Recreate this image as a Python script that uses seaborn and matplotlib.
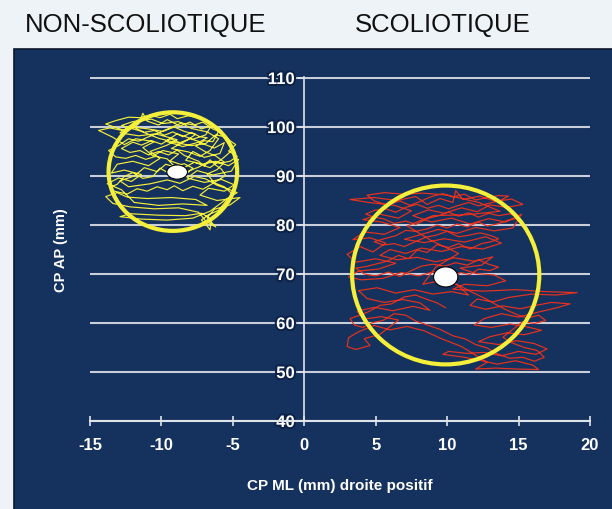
import numpy as np
import pandas as pd
import seaborn as sns
import matplotlib.pyplot as plt
from matplotlib.patches import Ellipse, Rectangle
import matplotlib.patheffects as pe

# donnees (CP ML, CP AP) en mm
trace_non_scol = [
    (-9.0, 91.0), (-8.6, 92.3), (-9.4, 93.1), (-8.8, 94.5), (-9.9, 95.2), (-10.6, 94.1),
    (-11.3, 95.8), (-10.5, 97.0), (-11.8, 97.6), (-12.6, 96.4), (-13.4, 97.9), (-14.4, 99.3),
    (-13.6, 99.8), (-12.4, 99.1), (-11.6, 100.6), (-11.3, 102.8), (-11.0, 101.2), (-10.2, 100.4),
    (-9.6, 101.5), (-8.7, 100.2), (-8.0, 101.0), (-7.2, 99.6), (-6.5, 100.3), (-6.9, 98.4),
    (-7.8, 97.5), (-8.9, 98.6), (-9.7, 97.1), (-8.5, 96.0), (-7.4, 96.9), (-6.3, 95.7),
    (-5.6, 96.8), (-5.9, 94.6), (-7.0, 93.8), (-7.8, 95.0), (-8.3, 93.2), (-7.1, 92.4),
    (-6.2, 93.0), (-5.3, 92.1), (-4.6, 93.4), (-5.1, 91.0), (-6.4, 90.2), (-7.5, 91.1),
    (-8.2, 89.6), (-7.0, 88.7), (-5.8, 89.3), (-4.9, 88.2), (-5.6, 86.9), (-6.7, 87.5),
    (-7.3, 86.1), (-6.1, 85.0), (-4.5, 85.6), (-5.2, 84.1), (-6.3, 83.2), (-6.8, 81.5),
    (-6.2, 79.6), (-6.9, 80.8), (-7.4, 82.6), (-8.8, 83.5), (-10.5, 83.3), (-12.2, 83.7),
    (-13.4, 84.4), (-13.9, 85.8), (-13.1, 86.6), (-12.4, 85.7), (-11.0, 85.4), (-9.3, 85.6),
    (-7.6, 85.2), (-6.8, 84.0), (-8.5, 84.3), (-10.2, 84.0), (-11.9, 84.6), (-12.8, 87.2),
    (-13.8, 88.4), (-13.0, 89.6), (-12.1, 88.9), (-11.4, 90.3), (-12.6, 91.2), (-13.5, 90.6),
    (-13.1, 92.4), (-12.0, 93.0), (-10.9, 92.1), (-10.1, 93.6), (-10.8, 95.0), (-9.6, 96.3),
    (-8.9, 97.4), (-10.4, 98.6), (-11.6, 98.2), (-12.9, 98.8), (-12.3, 100.1), (-10.9, 99.6),
    (-9.9, 99.1), (-9.1, 100.0), (-8.4, 99.1), (-7.6, 98.5), (-8.2, 97.3), (-9.3, 95.6),
    (-8.1, 94.9), (-7.3, 94.0), (-6.6, 95.2), (-6.0, 97.6), (-6.8, 99.0), (-7.9, 99.7),
    (-8.8, 101.1), (-9.9, 100.7), (-10.7, 101.6), (-12.0, 101.1), (-12.8, 100.3), (-11.5, 99.2),
    (-10.2, 97.7), (-9.0, 96.8), (-7.9, 96.2), (-6.9, 96.6), (-6.2, 98.4), (-5.4, 97.9),
    (-5.0, 95.4), (-5.7, 93.6), (-6.6, 91.7), (-7.7, 92.8), (-8.6, 91.4), (-9.7, 92.4),
    (-10.3, 90.9), (-11.2, 91.7), (-11.9, 90.0), (-12.9, 89.0), (-12.3, 87.8), (-10.8, 88.4),
    (-9.6, 89.2), (-8.7, 88.5), (-7.7, 89.9), (-6.9, 89.4), (-6.1, 88.1), (-5.3, 87.3),
    (-4.7, 86.6), (-5.4, 85.4), (-6.6, 82.8), (-7.8, 81.4), (-9.6, 81.0), (-11.4, 81.2),
    (-12.9, 81.7), (-12.2, 82.3), (-10.2, 82.0), (-8.3, 81.9), (-7.2, 82.4), (-6.5, 81.2),
    (-6.6, 79.0), (-6.9, 80.2), (-7.2, 81.0), (-6.7, 82.1), (-6.0, 83.0), (-5.5, 84.8),
    (-5.0, 86.2), (-5.6, 87.8), (-6.3, 88.6), (-6.8, 90.4), (-6.1, 91.3), (-5.6, 92.8),
    (-6.2, 94.1), (-6.9, 94.9), (-7.6, 96.1), (-7.0, 97.2), (-6.4, 97.0), (-6.0, 99.1),
    (-6.6, 100.9), (-7.4, 101.8), (-8.1, 102.3), (-8.9, 101.7), (-9.4, 102.6), (-10.1, 101.9),
    (-10.8, 102.4), (-11.5, 101.9), (-12.3, 102.0), (-13.2, 101.3), (-13.9, 100.6), (-13.3, 100.0),
    (-12.7, 99.4), (-11.9, 99.9), (-11.2, 98.9), (-10.5, 99.3), (-9.8, 98.3), (-9.2, 99.0),
    (-8.5, 98.0), (-7.9, 98.9), (-7.3, 98.0), (-6.8, 97.8), (-7.3, 97.0), (-8.0, 97.6),
    (-8.7, 96.8), (-9.4, 97.6), (-10.0, 96.5), (-10.7, 97.2), (-11.4, 96.3), (-12.0, 96.9),
    (-12.8, 95.6), (-12.2, 94.8), (-11.5, 95.2), (-10.9, 94.3), (-10.2, 95.0), (-9.5, 94.3),
    (-8.9, 95.3), (-8.4, 94.2), (-7.9, 93.6), (-7.4, 93.0), (-7.0, 92.0), (-6.6, 93.3),
    (-6.2, 92.2), (-5.8, 91.4), (-5.5, 90.1), (-5.9, 89.4), (-6.5, 88.3), (-7.1, 87.3),
    (-7.8, 87.9), (-8.5, 87.0), (-9.1, 88.0), (-9.6, 87.2), (-10.3, 87.8), (-11.0, 86.9),
    (-11.7, 87.4), (-12.4, 86.3), (-13.3, 86.9), (-13.6, 87.7), (-13.1, 88.3), (-12.6, 89.9),
    (-12.0, 90.7), (-11.3, 89.5), (-10.6, 89.9), (-10.1, 91.6), (-9.5, 90.6), (-9.0, 89.8),
    (-8.3, 90.3), (-7.8, 91.6), (-8.4, 92.5), (-9.1, 92.0), (-9.6, 93.5), (-10.4, 94.0),
    (-11.1, 93.4), (-11.8, 94.2), (-12.5, 93.6), (-13.2, 93.9), (-13.7, 95.2), (-13.0, 96.2),
    (-12.3, 97.6), (-11.6, 97.1), (-10.9, 98.0), (-10.1, 98.9), (-9.4, 99.8), (-8.6, 100.8),
    (-7.7, 100.4), (-7.1, 101.0), (-6.4, 99.6), (-5.8, 98.9), (-5.2, 97.2), (-4.8, 96.4),
    (-5.3, 95.1), (-4.7, 94.0), (-5.2, 93.0), (-5.9, 92.6), (-6.7, 92.9), (-7.4, 91.8),
    (-8.1, 91.0),
]

trace_scol = [
    (9.9, 69.2), (9.1, 70.5), (8.0, 69.6), (6.8, 70.3), (5.5, 69.1), (4.0, 68.8), (3.1, 69.4),
    (3.8, 70.6), (5.2, 71.0), (6.4, 72.2), (5.0, 73.1), (3.6, 72.4), (3.0, 74.0), (3.9, 75.6),
    (4.8, 74.5), (5.7, 76.3), (4.6, 77.4), (3.4, 77.0), (4.2, 78.6), (5.6, 78.1), (6.7, 79.5),
    (5.4, 80.6), (4.1, 81.1), (5.3, 82.2), (6.6, 81.4), (7.5, 82.9), (6.3, 84.0), (4.5, 84.6),
    (3.2, 85.2), (4.9, 85.6), (6.5, 85.0), (7.8, 85.8), (8.6, 84.2), (9.5, 85.4), (10.4, 84.6),
    (10.6, 87.0), (11.1, 85.2), (12.3, 85.9), (13.4, 84.8), (14.5, 85.3), (15.3, 84.2),
    (14.2, 83.6), (13.0, 84.1), (12.1, 82.7), (11.0, 83.5), (9.8, 82.4), (8.7, 83.1),
    (7.6, 81.9), (8.9, 80.6), (10.3, 81.4), (11.6, 80.2), (12.9, 81.3), (14.1, 80.6),
    (15.2, 82.2), (14.6, 79.4), (13.3, 78.8), (12.0, 79.5), (10.7, 78.3), (9.4, 79.1),
    (8.1, 78.0), (7.0, 77.1), (8.4, 76.4), (9.8, 77.2), (11.2, 76.5), (12.7, 77.6),
    (13.8, 76.3), (12.5, 75.1), (11.0, 75.6), (9.6, 74.6), (8.2, 75.3), (7.1, 74.2),
    (6.0, 75.0), (5.3, 73.8), (6.5, 72.9), (7.9, 73.4), (9.2, 72.5), (10.5, 73.3),
    (11.9, 72.6), (13.2, 73.5), (12.4, 71.8), (10.9, 71.2), (12.0, 70.1), (13.3, 69.8),
    (14.1, 68.6), (12.8, 67.6), (11.2, 67.9), (10.4, 66.9), (12.5, 66.5), (14.8, 66.8),
    (16.9, 66.4), (19.1, 66.2), (17.6, 65.7), (15.9, 65.9), (14.3, 65.2), (13.2, 64.3),
    (12.1, 64.9), (11.6, 63.6), (12.7, 62.8), (13.9, 63.5), (15.1, 62.9), (16.4, 63.7),
    (17.3, 64.2), (18.6, 63.9), (17.8, 63.2), (16.2, 62.1), (15.0, 61.2), (13.8, 61.9),
    (12.6, 60.9), (11.9, 59.6), (13.1, 59.1), (14.4, 59.8), (15.6, 59.2), (16.6, 58.5),
    (15.4, 57.6), (14.2, 58.0), (13.0, 57.2), (12.2, 56.2), (13.6, 55.6), (14.9, 56.4),
    (16.1, 55.8), (17.0, 54.7), (16.2, 53.6), (15.0, 54.2), (13.8, 53.3), (12.6, 54.0),
    (11.4, 53.8), (10.1, 54.2), (9.7, 53.6), (11.0, 53.1), (12.3, 52.4), (13.5, 51.6),
    (14.8, 52.3), (16.0, 51.4), (16.4, 50.5), (14.9, 50.6), (13.4, 50.8), (12.0, 50.6),
    (12.8, 52.0), (11.0, 55.2), (9.6, 56.8), (8.4, 58.4), (7.2, 59.3), (6.0, 58.6),
    (4.9, 59.5), (3.8, 58.2), (3.1, 57.0), (3.0, 55.2), (3.6, 54.6), (4.6, 55.4),
    (4.2, 56.8), (5.3, 57.7), (6.6, 60.6), (5.4, 61.3), (4.2, 60.8), (3.7, 62.4),
    (4.9, 63.2), (6.2, 62.5), (7.6, 63.4), (8.8, 62.6), (8.1, 64.1), (6.9, 64.8),
    (5.6, 64.2), (4.4, 65.0), (3.8, 66.6), (5.1, 67.2), (6.4, 66.1), (7.7, 66.8),
    (9.0, 65.9), (10.3, 66.4), (11.5, 65.7), (10.6, 68.0), (9.5, 68.6), (8.3, 67.9),
    (9.2, 71.4), (10.8, 74.2), (8.9, 76.8), (7.2, 79.8), (9.0, 81.9), (11.4, 82.1),
    (13.7, 82.8), (12.2, 84.6), (10.0, 86.1), (8.3, 86.5), (6.9, 86.3), (5.6, 86.6),
    (4.4, 86.1), (4.9, 84.9), (5.8, 84.1), (6.7, 84.9), (7.4, 84.0), (8.1, 84.8),
    (8.9, 85.8), (9.7, 86.4), (10.4, 85.7), (11.2, 86.3), (12.0, 85.1), (12.8, 85.6),
    (13.6, 86.0), (14.3, 85.9), (13.7, 85.0), (12.9, 84.4), (12.2, 83.9), (11.5, 84.6),
    (10.8, 84.0), (10.1, 83.3), (9.4, 84.0), (8.6, 83.4), (7.9, 84.2), (7.1, 83.6),
    (6.4, 82.6), (5.7, 83.3), (4.9, 83.0), (4.3, 82.2), (4.8, 81.7), (5.6, 81.2),
    (6.3, 80.3), (7.1, 80.8), (7.8, 80.1), (8.6, 81.3), (9.4, 81.9), (10.1, 82.6),
    (10.8, 81.8), (11.5, 82.5), (12.2, 81.6), (12.9, 82.4), (13.6, 81.9), (14.4, 82.3),
    (15.0, 81.4), (14.3, 81.0), (13.5, 80.2), (12.8, 79.8), (12.2, 80.6), (11.4, 79.6),
    (10.7, 80.2), (10.0, 79.4), (9.3, 80.0), (8.6, 79.2), (7.8, 78.7), (7.1, 78.9),
    (6.4, 77.8), (5.6, 77.2), (4.9, 76.6), (5.5, 75.9), (6.3, 76.2), (7.0, 75.6),
    (7.7, 76.5), (8.5, 77.5), (9.2, 77.9), (10.0, 78.7), (10.8, 77.6), (11.5, 77.9),
    (12.3, 78.4), (13.0, 77.9), (13.6, 77.2), (13.1, 76.6), (12.4, 76.2), (11.6, 75.1),
    (10.8, 76.2), (10.1, 75.4), (9.3, 76.0), (8.6, 74.4), (7.9, 74.9), (7.3, 73.1),
    (6.6, 73.8), (5.8, 72.6), (5.1, 72.1), (4.3, 71.5), (3.6, 71.2), (4.2, 70.0),
    (5.0, 69.6), (5.9, 70.4), (6.7, 69.5), (7.5, 70.7), (8.2, 71.6), (9.0, 72.0),
    (9.8, 71.6), (10.6, 72.3), (11.4, 71.8), (12.2, 72.9), (12.9, 72.0), (13.6, 71.4),
    (13.0, 70.7), (12.2, 71.0), (11.6, 69.9), (10.9, 70.3), (10.3, 68.4), (11.0, 67.4),
    (11.8, 66.2), (12.6, 65.1), (13.4, 63.8), (14.2, 62.6), (14.9, 61.7), (15.6, 61.0),
    (16.4, 61.6), (16.9, 60.5), (16.1, 59.9), (15.3, 60.3), (14.6, 58.7), (13.9, 57.1),
    (14.5, 56.0), (15.4, 55.0), (16.3, 54.4), (16.8, 53.0), (16.1, 52.2), (15.3, 53.0),
    (14.4, 52.8), (13.5, 53.7), (12.8, 54.9), (12.0, 55.6), (11.3, 56.7), (10.4, 57.4),
    (9.5, 58.7), (8.6, 59.6), (7.8, 60.4), (7.1, 61.6), (6.3, 61.9), (5.5, 60.5),
    (4.8, 60.1), (4.1, 59.1), (3.5, 59.6), (3.2, 60.9), (3.7, 61.4), (4.5, 62.3),
    (5.3, 63.6), (6.1, 63.9), (7.0, 65.3), (7.8, 65.7), (8.6, 64.8), (9.3, 64.1),
    (9.9, 63.1),
]

# centre moyen et surface (ellipse de confiance) de chaque groupe
groupes = ["NON-SCOLIOTIQUE", "SCOLIOTIQUE"]
centre_x = [-8.9, 9.9]
centre_y = [90.8, 69.4]
cercle_x = [-9.2, 9.9]
cercle_y = [90.9, 69.8]
cercle_larg = [9.0, 13.1]
cercle_haut = [24.2, 36.5]

x_ticks = [-15, -10, -5, 0, 5, 10, 15, 20]
y_ticks = [40, 50, 60, 70, 80, 90, 100, 110]

navy = "#15315e"
jaune = "#f4ef3a"
rouge = "#e8321e"

sns.set_theme(style="white")
plt.rcParams["font.family"] = ["Liberation Sans", "DejaVu Sans"]
plt.rcParams["axes.unicode_minus"] = False

fig = plt.figure(figsize=(6.12, 5.1), dpi=100, facecolor="#eef3f7")
fig.patches.append(Rectangle((14 / 612, -0.01), 1.0, (510 - 50) / 510 + 0.01,
                             transform=fig.transFigure, facecolor=navy,
                             edgecolor="#0b1830", lw=1.2, zorder=-5))
ax = fig.add_axes([90 / 612, (510 - 422) / 510, 500 / 612, 344 / 510])
ax.set_zorder(2)
ax.set_facecolor(navy)

df1 = pd.DataFrame(trace_non_scol, columns=["ml", "ap"])
df2 = pd.DataFrame(trace_scol, columns=["ml", "ap"])
sns.lineplot(data=df1, x="ml", y="ap", sort=False, estimator=None, color=jaune, lw=0.85, ax=ax, zorder=3)
sns.lineplot(data=df2, x="ml", y="ap", sort=False, estimator=None, color=rouge, lw=0.85, ax=ax, zorder=3)

for i in range(2):
    ax.add_patch(Ellipse((cercle_x[i], cercle_y[i]), cercle_larg[i], cercle_haut[i],
                         fill=False, edgecolor=jaune, lw=3.0, zorder=4))
w_pt = [1.45, 1.7]
h_pt = [2.9, 4.1]
for i in range(2):
    ax.add_patch(Ellipse((centre_x[i], centre_y[i]), w_pt[i], h_pt[i],
                         facecolor="white", edgecolor="black", lw=0.8, zorder=5))

ax.set_xlim(-15, 20)
ax.set_ylim(40, 110.2)
ax.set_xticks(x_ticks)
ax.set_yticks(y_ticks)
ax.yaxis.grid(True, color="#c9cfd9", lw=1.5, zorder=1)
ax.xaxis.grid(False)
ax.set_axisbelow(True)

for s in ["top", "right"]:
    ax.spines[s].set_visible(False)
ax.spines["left"].set_position(("data", 0))
ax.spines["left"].set_color("#dfe3ea")
ax.spines["left"].set_linewidth(1.2)
ax.spines["bottom"].set_color("#dfe3ea")
ax.spines["bottom"].set_linewidth(1.5)

ax.tick_params(axis="x", direction="inout", length=7, width=1.2, color="#dfe3ea",
               labelcolor="white", labelsize=12, pad=8, bottom=True)
ax.tick_params(axis="y", direction="out", length=4, width=1.2, color="#dfe3ea",
               labelcolor="white", labelsize=12, pad=3, left=True)
for lbl in ax.get_xticklabels() + ax.get_yticklabels():
    lbl.set_fontweight("bold")
for lbl in ax.get_yticklabels():
    lbl.set_path_effects([pe.withStroke(linewidth=3, foreground="#0d2248")])

ax.set_xlabel("CP ML (mm) droite positif", color="white", fontsize=11, fontweight="bold")
ax.xaxis.set_label_coords(0.5, -0.165)
ax.set_ylabel("CP AP (mm)", color="white", fontsize=10.5, fontweight="bold")
ax.yaxis.set_label_coords(-0.045, 0.5)

fig.text(25 / 612, 1 - 25 / 510, groupes[0], fontsize=18.5, color="#111111", va="center", ha="left")
fig.text(355 / 612, 1 - 25 / 510, groupes[1], fontsize=18.5, color="#111111", va="center", ha="left")

fig.savefig("out.png", dpi=100, facecolor=fig.get_facecolor())
